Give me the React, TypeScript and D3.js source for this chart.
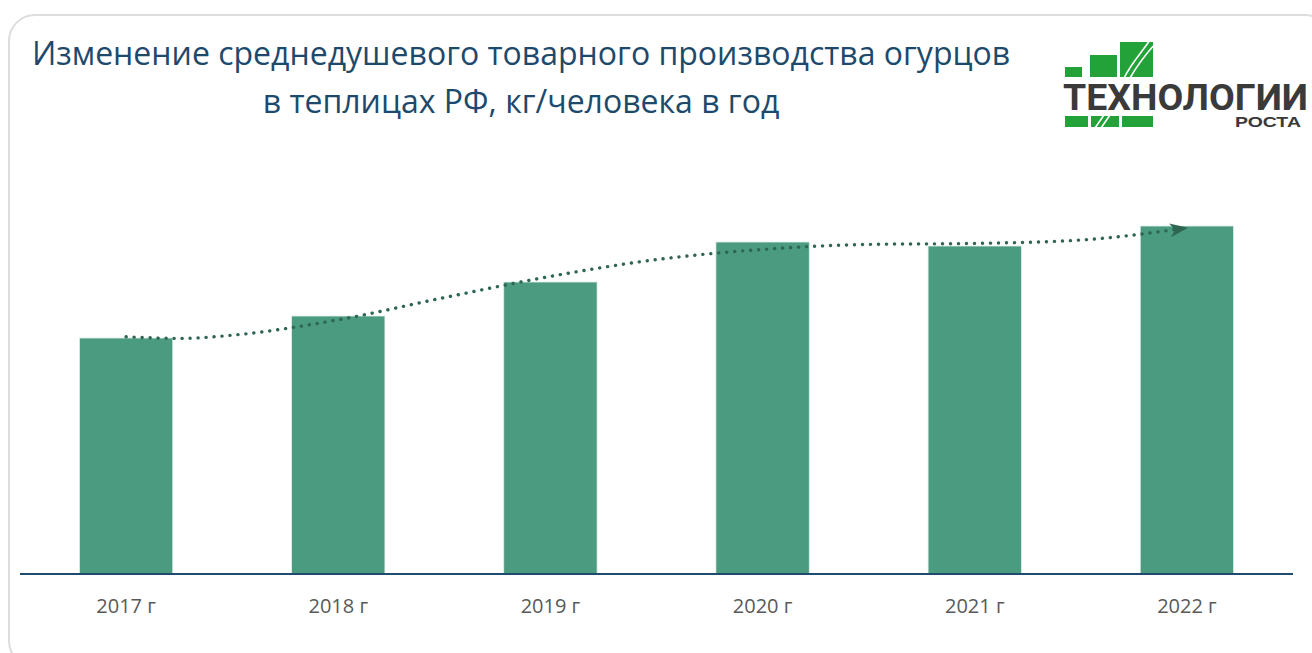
import { useEffect, useRef } from 'react'
import * as d3 from 'd3'

// Данные (кг/человека в год, оценка по высоте столбцов)
const YEARS = ['2017 г', '2018 г', '2019 г', '2020 г', '2021 г', '2022 г']
const VALUES = [5.9, 6.45, 7.3, 8.3, 8.2, 8.7]
// Линия тренда: положение (индекс года, дробный) и уровень
const TREND_POS = [0, 0.25, 0.5, 1, 1.5, 2, 2.5, 3, 3.5, 4, 4.5, 5]
const TREND_VALUES = [5.93, 5.89, 5.97, 6.355, 6.91, 7.44, 7.86, 8.115, 8.24, 8.265, 8.35, 8.65]
const TITLE_LINES = [
  'Изменение среднедушевого товарного производства огурцов',
  'в теплицах РФ, кг/человека в год',
]
const Y_DOMAIN = [0, 10]

const W = 1312
const H = 653
const PLOT = { left: 20, right: 1293, top: 174, bottom: 574 }
const FONT = '"Open Sans", "Noto Sans", sans-serif'

const BAR_COLOR = '#4b9b80'
const TREND_COLOR = '#2e6652'
const AXIS_COLOR = '#1f4b6e'
const TITLE_COLOR = '#1d4a6c'
const LOGO_GREEN = '#23a23a'

export default function App() {
  const svgRef = useRef<SVGSVGElement>(null)

  useEffect(() => {
    if (!svgRef.current) return
    const svg = d3.select(svgRef.current)
    svg.selectAll('*').remove()

    const data = YEARS.map((year, i) => ({ year, value: VALUES[i] }))
    const trendData = TREND_POS.map((pos, i) => ({ pos, value: TREND_VALUES[i] }))

    const x = d3.scaleBand<string>()
      .domain(YEARS)
      .range([PLOT.left, PLOT.right])
      .paddingInner(0.56)
      .paddingOuter(0.28)

    const y = d3.scaleLinear().domain(Y_DOMAIN).range([PLOT.bottom, PLOT.top])

    const center = (year: string) => x(year)! + x.bandwidth() / 2
    const xPos = d3.scaleLinear()
      .domain([0, YEARS.length - 1])
      .range([center(YEARS[0]), center(YEARS[YEARS.length - 1])])

    // ── Рамка ────────────────────────────────────────────────────────────────
    svg.append('rect')
      .attr('x', 9).attr('y', 15)
      .attr('width', 1322).attr('height', 652)
      .attr('rx', 26)
      .attr('fill', '#fff').attr('stroke', '#dddddd').attr('stroke-width', 2)

    // ── Заголовок ────────────────────────────────────────────────────────────
    svg.append('text')
      .attr('x', 521).attr('y', 65)
      .attr('text-anchor', 'middle')
      .attr('font-family', FONT).attr('font-size', 32)
      .attr('fill', TITLE_COLOR)
      .selectAll('tspan').data(TITLE_LINES).join('tspan')
      .attr('x', 521).attr('dy', (_, i) => (i === 0 ? 0 : 48))
      .text((d) => d)

    // ── Логотип ──────────────────────────────────────────────────────────────
    const logo = svg.append('g').attr('class', 'logo')
    const topRow = [
      [1065, 67, 17, 10],
      [1090, 55, 27, 22],
      [1120, 42, 33, 35],
    ]
    const bottomRow = [
      [1065, 116, 23, 11],
      [1091, 116, 28, 11],
      [1122, 116, 31, 11],
    ]
    logo.selectAll('.top').data(topRow).join('rect')
      .attr('x', (d) => d[0]).attr('y', (d) => d[1])
      .attr('width', (d) => d[2]).attr('height', (d) => d[3])
      .attr('fill', LOGO_GREEN)
    logo.selectAll('.bottom').data(bottomRow).join('rect')
      .attr('x', (d) => d[0]).attr('y', (d) => d[1])
      .attr('width', (d) => d[2]).attr('height', (d) => d[3])
      .attr('fill', LOGO_GREEN)
    // стебель
    logo.append('path')
      .attr('d', 'M1124,78 C1132,62 1142,52 1150,40 M1130,78 C1138,64 1146,54 1155,44')
      .attr('fill', 'none').attr('stroke', '#fff').attr('stroke-width', 1.6)
    logo.append('path')
      .attr('d', 'M1095,128 L1104,115 M1101,128 L1110,115')
      .attr('fill', 'none').attr('stroke', '#fff').attr('stroke-width', 1.6)
    logo.append('text')
      .attr('x', 1063).attr('y', 110)
      .attr('font-family', '"Liberation Sans Narrow", "Roboto", sans-serif')
      .attr('font-weight', 700).attr('font-size', 36)
      .attr('textLength', 245).attr('lengthAdjust', 'spacingAndGlyphs')
      .attr('fill', '#3a3a3a')
      .text('ТЕХНОЛОГИИ')
    logo.append('text')
      .attr('x', 1235).attr('y', 127)
      .attr('font-family', '"Liberation Sans", "Roboto", sans-serif')
      .attr('font-weight', 700).attr('font-size', 15)
      .attr('textLength', 66).attr('lengthAdjust', 'spacingAndGlyphs')
      .attr('fill', '#3a3a3a')
      .text('РОСТА')

    // ── Столбцы ──────────────────────────────────────────────────────────────
    svg.append('g').selectAll('rect').data(data).join('rect')
      .attr('x', (d) => x(d.year)!)
      .attr('y', (d) => y(d.value))
      .attr('width', x.bandwidth())
      .attr('height', (d) => y(0) - y(d.value))
      .attr('fill', BAR_COLOR)
      .attr('stroke', '#e4efe9').attr('stroke-width', 0.8)

    // ── Ось X ────────────────────────────────────────────────────────────────
    svg.append('line')
      .attr('x1', PLOT.left).attr('x2', PLOT.right)
      .attr('y1', y(0)).attr('y2', y(0))
      .attr('stroke', AXIS_COLOR).attr('stroke-width', 2)

    svg.append('g').selectAll('text').data(data).join('text')
      .attr('x', (d) => center(d.year))
      .attr('y', 613)
      .attr('text-anchor', 'middle')
      .attr('font-family', FONT).attr('font-size', 20)
      .attr('fill', '#595959')
      .text((d) => d.year)

    // ── Линия тренда ─────────────────────────────────────────────────────────
    svg.append('defs').append('marker')
      .attr('id', 'trend-arrow')
      .attr('markerUnits', 'userSpaceOnUse')
      .attr('viewBox', '0 0 18 14')
      .attr('markerWidth', 18).attr('markerHeight', 14)
      .attr('refX', 17).attr('refY', 7)
      .attr('orient', 'auto')
      .append('path')
      .attr('d', 'M0,0 L18,7 L0,14 L5,7 Z')
      .attr('fill', TREND_COLOR)

    const trend = d3.line<{ pos: number; value: number }>()
      .x((d) => xPos(d.pos))
      .y((d) => y(d.value))
      .curve(d3.curveMonotoneX)

    svg.append('path')
      .datum(trendData)
      .attr('d', trend)
      .attr('fill', 'none')
      .attr('stroke', TREND_COLOR)
      .attr('stroke-width', 3.4)
      .attr('stroke-linecap', 'round')
      .attr('stroke-dasharray', '0.1 7.9')
      .attr('marker-end', 'url(#trend-arrow)')
  }, [])

  return (
    <svg
      ref={svgRef}
      width={W}
      height={H}
      style={{ position: 'absolute', left: 0, top: 0, display: 'block', background: '#fff' }}
    />
  )
}
